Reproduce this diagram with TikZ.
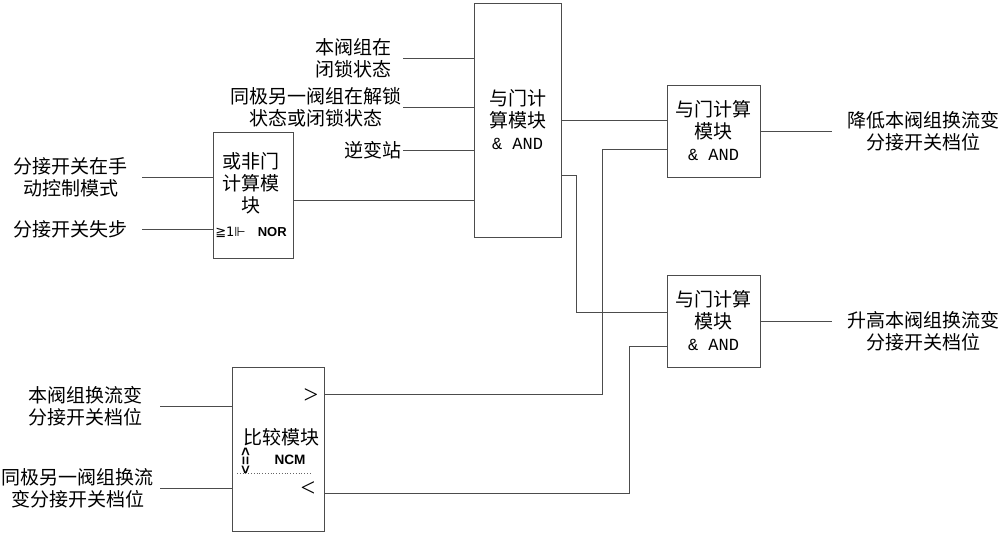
\documentclass[tikz,border=0pt]{standalone}
\usepackage{fontspec}
\setmainfont{Liberation Serif}
\setsansfont{Liberation Sans}
\setmonofont{Liberation Mono}
\newfontfamily\cjk{Noto Sans CJK SC}
\newfontfamily\symfont{DejaVu Sans}
\usepackage{tikz}
\usetikzlibrary{positioning}

\begin{document}
\begin{tikzpicture}[
    x=0.5pt, y=-0.5pt,
    box/.style={rectangle, draw=black!70, line width=0.5pt, inner sep=0pt, align=center, font=\cjk\fontsize{9.5}{11}\selectfont},
    andbig/.style={box, minimum width=43.5pt, minimum height=117pt},
    andbox/.style={box, minimum width=46.5pt, minimum height=46pt},
    txt/.style={align=center, inner sep=0pt, font=\cjk\fontsize{9.5}{11}\selectfont},
    sym/.style={inner sep=0pt, font=\sffamily\bfseries\fontsize{6.8}{8}\selectfont},
    wire/.style={draw=black!70, line width=0.5pt},
]
    \useasboundingbox (0,0) rectangle (1000,532);

    % AND gates
    \node[andbig] (and1) at (517.5,120) {与门计\\算模块\\{\ttfamily\fontsize{8.5}{11}\selectfont\& AND}};
    \node[andbox] (andlow) at (713.5,131) {与门计算\\模块\\{\ttfamily\fontsize{8.5}{11}\selectfont\& AND}};
    \node[andbox] (andup) at (713.5,321) {与门计算\\模块\\{\ttfamily\fontsize{8.5}{11}\selectfont\& AND}};

    % NOR gate
    \node[box, minimum width=40pt, minimum height=63pt] (nor) at (253,195) {};
    \node[txt] (nortxt) at (251,183) {或非门\\计算模\\块};
    \node[inner sep=0pt] (norsym) at (251,232) {{\symfont\fontsize{6.5}{8}\selectfont ≧1⊩}\hspace{6pt}{\sffamily\bfseries\fontsize{6.5}{8}\selectfont NOR}};

    % comparator
    \node[box, minimum width=46pt, minimum height=82pt] (cmp) at (278,449) {};
    \node[txt] (cmptxt) at (281,437) {比较模块};
    \node[inner sep=0pt, font=\fontsize{13}{14}\selectfont] (gt) at (311,396) {>};
    \node[inner sep=0pt, font=\fontsize{13}{14}\selectfont] (lt) at (308,489) {<};
    \node[sym, rotate=-90, font=\sffamily\bfseries\fontsize{7.5}{8}\selectfont] (cmpsym) at (245,461) {<=>};
    \node[sym] (ncm) at (290,460) {NCM};
    \draw[black!60, densely dotted] (237,473) -- (310,473);

    % inputs
    \node[txt, anchor=east, inner xsep=5.5pt] (lock) at (403,58) {本阀组在\\闭锁状态};
    \node[txt, anchor=east, inner xsep=0.5pt] (other) at (403,107) {同极另一阀组在解锁\\状态或闭锁状态};
    \node[txt, anchor=east, inner xsep=0.5pt] (inv) at (403,150) {逆变站};
    \node[txt, anchor=east, inner xsep=7pt] (manual) at (142,177) {分接开关在手\\动控制模式};
    \node[txt, anchor=east, inner xsep=7pt] (slip) at (142,229) {分接开关失步};
    \node[txt, anchor=east, inner xsep=8.5pt] (own) at (160,406) {本阀组换流变\\分接开关档位};
    \node[txt, anchor=east, inner xsep=3pt] (peer) at (160,488) {同极另一阀组换流\\变分接开关档位};

    % outputs
    \node[txt, anchor=west, inner xsep=7.5pt] (lower) at (832,131) {降低本阀组换流变\\分接开关档位};
    \node[txt, anchor=west, inner xsep=7.5pt] (raise) at (832,331) {升高本阀组换流变\\分接开关档位};

    % wires
    \draw[wire] (lock.east) -- (lock.east -| and1.west);
    \draw[wire] (other.east) -- (other.east -| and1.west);
    \draw[wire] (inv.east) -- (inv.east -| and1.west);
    \draw[wire] (manual.east) -- (manual.east -| nor.west);
    \draw[wire] (slip.east) -- (slip.east -| nor.west);
    \draw[wire] (nor.east |- 0,200) -- (and1.west |- 0,200);
    \draw[wire] (own.east) -- (own.east -| cmp.west);
    \draw[wire] (peer.east) -- (peer.east -| cmp.west);
    \draw[wire] (and1.east) -- (and1.east -| andlow.west);
    \draw[wire] (and1.east |- 0,175) -| (576,312) -- (andup.west |- 0,312);
    \draw[wire] (cmp.east |- 0,394) -| (602,149) -- (andlow.west |- 0,149);
    \draw[wire] (cmp.east |- 0,493) -| (629,346) -- (andup.west |- 0,346);
    \draw[wire] (andlow.east) -- (andlow.east -| lower.west);
    \draw[wire] (andup.east) -- (andup.east -| raise.west);
\end{tikzpicture}
\end{document}
